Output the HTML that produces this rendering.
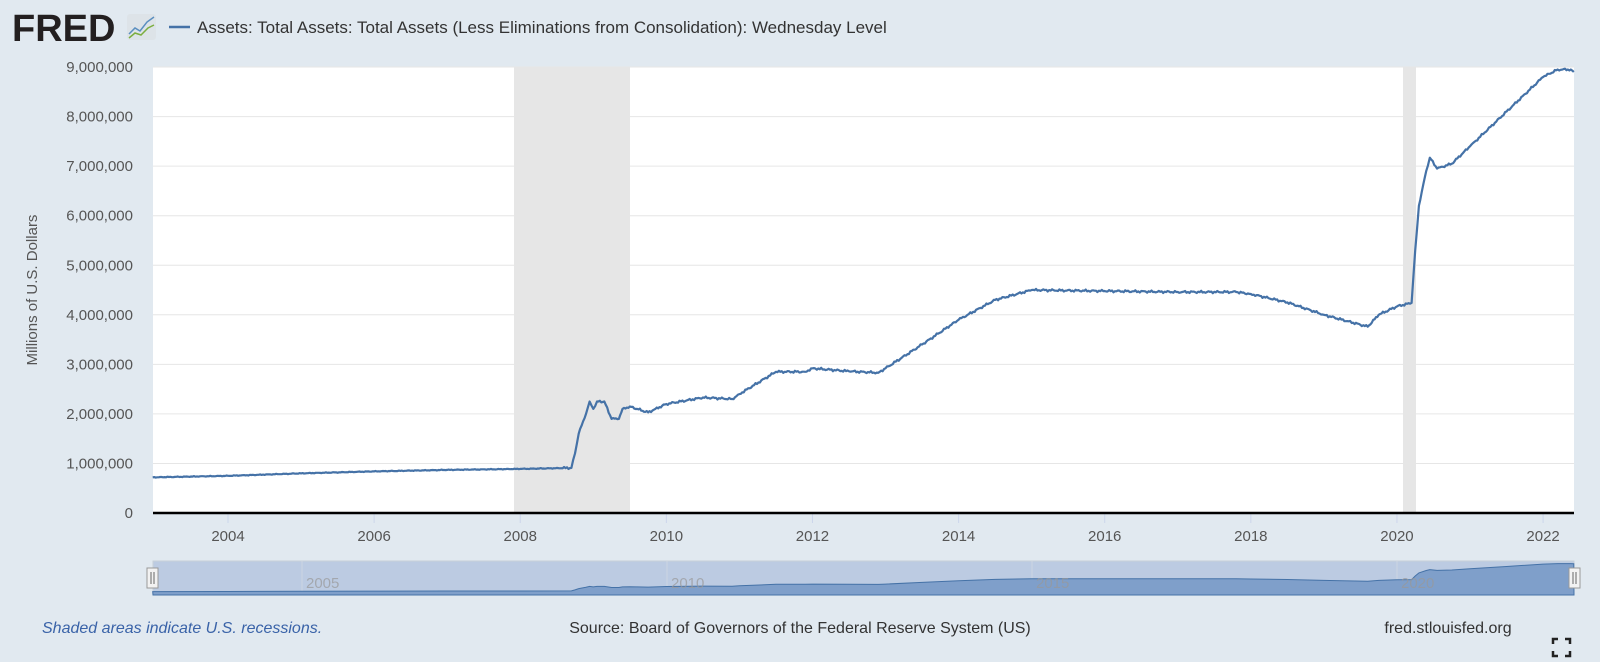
<!DOCTYPE html>
<html><head><meta charset="utf-8"><style>
body{margin:0;width:1600px;height:662px;background:#e1e9f0;overflow:hidden;font-family:"Liberation Sans",sans-serif}
</style></head><body>
<svg id="s" width="1600" height="662" xmlns="http://www.w3.org/2000/svg" style="position:absolute;left:0;top:0">
<text x="12" y="41" font-family="Liberation Sans" font-weight="bold" font-size="38" fill="#231f20" letter-spacing="0">FRED</text>
<rect x="127" y="14" width="29" height="26" rx="3" fill="#dde3e8"/>
<polyline points="129,34 135,28 140,31 147,22 154,17" fill="none" stroke="#5b8fc0" stroke-width="1.5"/>
<polyline points="129,38 135,33 141,35 148,28 154,25" fill="none" stroke="#7cae3f" stroke-width="1.5"/>
<line x1="169" y1="27" x2="190" y2="27" stroke="#4572a7" stroke-width="2.5"/>
<text x="197" y="33" font-size="17" fill="#333">Assets: Total Assets: Total Assets (Less Eliminations from Consolidation): Wednesday Level</text>
<rect x="153" y="67" width="1421" height="446" fill="#fff"/>
<rect x="514" y="67" width="116" height="446" fill="#e6e6e6"/>
<rect x="1403" y="67" width="13" height="446" fill="#e6e6e6"/>
<g id="grid"></g>
<g id="ylab" font-size="15" fill="#555" text-anchor="end"></g>
<g id="xlab" font-size="15" fill="#555" text-anchor="middle"></g>
<text transform="translate(37,290) rotate(-90)" font-size="15" fill="#555" text-anchor="middle">Millions of U.S. Dollars</text>
<path id="line" fill="none" stroke="#4572a7" stroke-width="2.2" stroke-linejoin="round"/>
<line x1="153" y1="513" x2="1574" y2="513" stroke="#000" stroke-width="2.5"/>
<rect x="153" y="561" width="1421" height="34" fill="#bccbe2" stroke="#c8d0d8"/>
<line x1="302" y1="561" x2="302" y2="595" stroke="#cdd6e2"/>
<line x1="667" y1="561" x2="667" y2="595" stroke="#cdd6e2"/>
<line x1="1032" y1="561" x2="1032" y2="595" stroke="#cdd6e2"/>
<line x1="1397" y1="561" x2="1397" y2="595" stroke="#cdd6e2"/>
<path id="nav" fill="#7f9fca" stroke="#4572a7" stroke-width="1"/>
<g font-size="15" fill="#999" opacity="0.7"><text x="306" y="588">2005</text><text x="671" y="588">2010</text><text x="1036" y="588">2015</text><text x="1401" y="588">2020</text></g>
<rect x="147" y="568" width="11" height="20" fill="#f2f2f2" stroke="#999"/>
<line x1="151" y1="572" x2="151" y2="584" stroke="#666"/><line x1="154" y1="572" x2="154" y2="584" stroke="#666"/>
<rect x="1569" y="568" width="11" height="20" fill="#f2f2f2" stroke="#999"/>
<line x1="1573" y1="572" x2="1573" y2="584" stroke="#666"/><line x1="1576" y1="572" x2="1576" y2="584" stroke="#666"/>
<text x="42" y="633" font-size="16" fill="#3a63a8" font-style="italic">Shaded areas indicate U.S. recessions.</text>
<text x="800" y="633" font-size="16" fill="#333" text-anchor="middle">Source: Board of Governors of the Federal Reserve System (US)</text>
<text x="1448" y="633" font-size="16" fill="#333" text-anchor="middle">fred.stlouisfed.org</text>
<path d="M1553 644v-5h5M1565 639h5v5M1570 651v5h-5M1558 656h-5v-5" fill="none" stroke="#222" stroke-width="2.5"/>
</svg>
<script>
var X=function(y){return 228+(y-2004)*73.06},Y=function(v){return 513-v*49.55};
var g=document.getElementById('grid'),yl=document.getElementById('ylab'),xl=document.getElementById('xlab'),h='',t='';
for(var i=1;i<=9;i++){var y=Y(i);h+='<line x1="153" x2="1574" y1="'+y+'" y2="'+y+'" stroke="#e6e6e6"/>';}
g.innerHTML=h;
for(var i=0;i<=9;i++){t+='<text x="133" y="'+(Y(i)+5)+'">'+(i==0?'0':i+',000,000')+'</text>';}
yl.innerHTML=t;t='';
for(var yr=2004;yr<=2022;yr+=2){var x=X(yr);t+='<text x="'+x+'" y="541">'+yr+'</text><line x1="'+x+'" x2="'+x+'" y1="514" y2="523" stroke="#ccd6eb"/>';}
xl.innerHTML=t;
var d=[[2002.97,.72],[2004,.75],[2005,.80],[2006,.84],[2007,.87],[2008,.89],[2008.7,.91],[2008.75,1.2],[2008.8,1.6],[2008.9,2.0],[2008.95,2.25],[2009.0,2.1],[2009.05,2.25],[2009.15,2.25],[2009.25,1.9],[2009.35,1.9],[2009.4,2.1],[2009.5,2.15],[2009.6,2.1],[2009.75,2.03],[2009.85,2.1],[2010,2.2],[2010.5,2.33],[2010.9,2.3],[2011,2.4],[2011.5,2.85],[2011.9,2.85],[2012,2.92],[2012.5,2.86],[2012.9,2.83],[2013,2.92],[2013.5,3.4],[2014,3.9],[2014.5,4.3],[2015,4.5],[2016,4.48],[2017,4.46],[2017.8,4.46],[2018,4.42],[2018.5,4.25],[2019,4.0],[2019.6,3.76],[2019.75,4.0],[2020,4.17],[2020.2,4.24],[2020.25,5.3],[2020.3,6.2],[2020.4,6.9],[2020.45,7.17],[2020.55,6.95],[2020.75,7.05],[2021,7.4],[2021.5,8.1],[2022,8.8],[2022.2,8.95],[2022.38,8.95],[2022.42,8.9]];
var pts=[];
for(var k=0;k<d.length-1;k++){var a=d[k],b=d[k+1],n=Math.max(1,Math.round((b[0]-a[0])/0.02));
for(var j=0;j<n;j++){var f=j/n,yr=a[0]+(b[0]-a[0])*f,v=a[1]+(b[1]-a[1])*f;
var amp=yr>2008.6?0.025:0.008;if(j>0)v+=amp*Math.sin(yr*97.3)*Math.cos(yr*41.7);pts.push([yr,v]);}}
pts.push(d[d.length-1]);
var p='',q='';
pts.forEach(function(a,i){p+=(i?'L':'M')+X(a[0]).toFixed(1)+' '+Y(a[1]).toFixed(1);});
d.forEach(function(a,i){q+=(i?'L':'M')+X(a[0]).toFixed(1)+' '+(594-a[1]*3.4).toFixed(1);});
document.getElementById('line').setAttribute('d',p);
document.getElementById('nav').setAttribute('d',q+'L1574 595L153 595Z');
</script>
</body></html>
